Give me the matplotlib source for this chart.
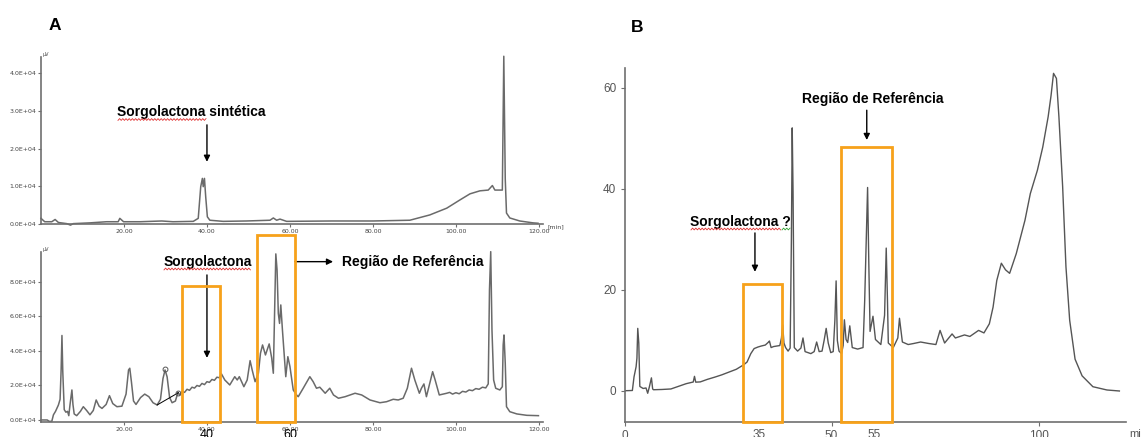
import numpy as np
import matplotlib
matplotlib.use("Agg")
import matplotlib.pyplot as plt
from matplotlib.patches import Rectangle
from matplotlib.lines import Line2D

# ---------------- data ----------------
# Panel A (top): synthetic sorgolactone, time [min], signal [x1E4 uV]
a1_time = [0, 0.9, 2.6, 3.4, 4.2, 6.2, 7.1, 7.8, 11.8, 15.8, 18.6, 19.0, 19.9, 23.9, 29.1, 31.8,
           36.7, 37.9, 38.5, 38.9, 39.1, 39.4, 39.7, 40.1, 40.7, 43.9, 49.5, 55.2, 56.0, 56.8,
           57.6, 59.2, 70.0, 80.0, 88.9, 93.7, 97.8, 101.0, 103.4, 105.8, 107.8, 108.8, 109.4,
           111.2, 111.55, 111.9, 112.2, 113.0, 115.4, 118.6, 119.8]
a1_signal = [0.15, 0.06, 0.06, 0.12, 0.04, 0.01, -0.03, 0.01, 0.03, 0.06, 0.06, 0.15, 0.06, 0.06,
             0.08, 0.06, 0.07, 0.15, 0.99, 1.21, 0.99, 1.21, 0.72, 0.19, 0.10, 0.07, 0.08, 0.10,
             0.16, 0.10, 0.13, 0.07, 0.08, 0.08, 0.10, 0.24, 0.42, 0.64, 0.80, 0.88, 0.90, 1.02,
             0.90, 0.90, 4.45, 1.20, 0.29, 0.16, 0.08, 0.03, 0.02]

# Panel A (bottom): sorghum extract
a2_time = [0, 1.5, 2.0, 2.6, 3.0, 3.5, 4.2, 4.6, 4.85, 5.05, 5.25, 5.6, 6.0, 6.4, 6.7, 7.0, 7.45,
           7.7, 8.0, 8.6, 9.5, 10.2, 11.0, 11.8, 12.6, 13.3, 14.0, 14.7, 15.7, 16.5, 17.3, 18.3,
           19.5, 20.5, 21.1, 21.4, 21.8, 22.3, 22.9, 24.0, 25.0, 26.0, 27.0, 28.0, 28.8, 29.4,
           29.9, 30.4, 31.0, 31.6, 32.4, 33.0, 33.4, 34.0, 34.6, 35.2, 35.8, 36.4, 37.0, 37.6,
           38.2, 38.8, 39.4, 40.0, 40.6, 41.2, 41.8, 42.4, 43.0, 43.5, 44.3, 45.5, 46.7, 47.3,
           47.8, 48.9, 49.7, 50.4, 50.9, 51.6, 52.4, 52.9, 53.4, 54.1, 55.0, 55.6, 56.0, 56.3,
           56.6, 56.9, 57.2, 57.5, 57.8, 58.2, 58.6, 59.0, 59.5, 60.0, 60.8, 61.6, 62.0, 63.2,
           64.8, 65.6, 66.4, 67.2, 68.5, 69.6, 70.5, 71.7, 73.3, 75.7, 77.3, 79.3, 81.7, 83.3,
           84.9, 86.1, 87.3, 88.3, 89.3, 90.1, 91.2, 91.7, 92.3, 92.9, 93.7, 94.4, 95.0, 96.0,
           97.8, 98.5, 99.2, 100.0, 100.8, 101.6, 102.4, 103.2, 104.0, 104.8, 105.6, 106.4,
           107.2, 107.8, 108.1, 108.4, 108.7, 109.1, 109.6, 110.6, 111.2, 111.4, 111.6, 111.9,
           112.2, 113.0, 114.7, 117.1, 119.9]
a2_signal = [0.0, 0.0, -0.08, -0.08, 0.3, 0.5, 0.87, 1.2, 2.9, 4.9, 2.8, 0.6, 0.45, 0.5, 0.25,
             0.9, 1.74, 0.9, 0.35, 0.25, 0.5, 0.77, 0.55, 0.3, 0.55, 1.16, 0.8, 0.67, 0.9, 1.41,
             0.95, 0.77, 0.8, 1.5, 2.9, 3.0, 2.2, 1.1, 0.9, 1.3, 1.5, 1.35, 1.0, 0.87, 1.2, 2.4,
             2.9, 2.5, 1.3, 1.0, 1.1, 1.6, 1.45, 1.65, 1.6, 1.78, 1.72, 1.9, 1.85, 2.0, 1.95,
             2.12, 2.05, 2.22, 2.18, 2.35, 2.3, 2.48, 2.45, 2.67, 2.32, 2.03, 2.51, 2.32, 2.51,
             1.93, 2.32, 3.44, 2.9, 2.22, 2.71, 3.87, 4.35, 3.77, 4.41, 3.6, 2.71, 6.2, 9.63,
             8.7, 6.19, 5.6, 6.67, 5.2, 3.87, 2.51, 3.67, 3.1, 1.74, 1.45, 1.35, 1.84, 2.51,
             2.22, 1.84, 1.9, 1.55, 1.84, 1.45, 1.26, 1.35, 1.55, 1.45, 1.16, 1.0, 1.06, 1.2,
             1.16, 1.26, 1.84, 3.0, 2.32, 1.55, 1.84, 2.09, 1.35, 2.13, 2.8, 2.32, 1.45, 1.55,
             1.6, 1.5, 1.58, 1.52, 1.66, 1.62, 1.74, 1.7, 1.82, 1.78, 1.9, 1.86, 2.09, 7.54,
             9.76, 5.22, 2.32, 1.84, 1.74, 1.93, 4.35, 4.93, 3.3, 0.77, 0.48, 0.35, 0.27, 0.25]
a2_marks_time = [29.9, 33.1]
a2_marks_signal = [2.94, 1.58]
a2_base_time = [28.0, 33.1]
a2_base_signal = [0.87, 1.58]

# Panel B: chromatogram, time [min], signal
b_time = [0, 1.9, 2.3, 2.8, 3.0, 3.2, 3.45, 3.7, 4.5, 5.2, 5.6, 6.0, 6.5, 6.8, 7.0, 9.0, 11.2,
          13.0, 14.9, 16.6, 16.9, 17.2, 18.3, 20.0, 21.9, 23.5, 25.3, 27.0, 27.9, 28.8, 29.6,
          30.0, 30.5, 31.3, 32.2, 33.0, 34.0, 34.8, 35.0, 35.4, 36.0, 36.7, 37.5, 37.9, 38.2,
          38.5, 38.9, 39.5, 40.0, 40.3, 40.5, 40.7, 41.0, 41.8, 42.6, 43.1, 43.6, 45.0, 45.8,
          46.4, 47.0, 47.7, 48.2, 48.7, 49.2, 49.8, 50.4, 50.8, 51.1, 51.4, 51.8, 52.4, 52.8,
          53.1, 53.5, 53.9, 54.4, 55.0, 56.3, 57.6, 58.0, 58.4, 58.7, 59.0, 59.3, 60.0, 60.6,
          61.9, 62.8, 63.2, 63.5, 63.7, 64.9, 66.0, 66.4, 67.1, 68.5, 69.8, 71.5, 73.5, 75.2,
          76.2, 77.3, 79.1, 79.9, 82.1, 83.4, 85.5, 86.8, 88.1, 89.0, 89.9, 91.0, 92.0, 93.0,
          94.6, 96.7, 98.0, 99.7, 101.0, 102.3, 103.0, 103.6, 104.3, 104.9, 105.8, 106.6,
          107.5, 108.8, 110.5, 113.1, 116.5, 119.5]
b_signal = [0.05, 0.1, 2.8, 4.8, 6.5, 12.4, 9.5, 0.9, 0.5, 0.6, -0.45, 0.8, 2.6, 0.4, 0.25, 0.3,
            0.4, 0.9, 1.45, 1.78, 2.9, 1.75, 1.8, 2.3, 2.77, 3.2, 3.76, 4.3, 4.75, 5.2, 5.74, 6.5,
            7.4, 8.4, 8.7, 8.9, 9.1, 9.7, 9.9, 8.6, 8.8, 8.9, 9.0, 10.5, 13.1, 9.5, 8.6, 7.9,
            8.5, 30.0, 52.1, 39.5, 8.6, 7.9, 8.5, 10.5, 7.8, 7.4, 7.8, 9.7, 7.8, 7.9, 10.0, 12.4,
            9.5, 7.6, 7.8, 14.0, 21.8, 10.0, 7.9, 7.4, 9.0, 14.1, 10.2, 9.6, 12.9, 8.6, 8.3, 8.6,
            17.9, 31.0, 40.3, 25.0, 11.8, 14.8, 10.2, 9.2, 15.0, 28.3, 18.0, 9.5, 8.6, 10.5,
            14.4, 9.7, 9.2, 9.4, 9.7, 9.4, 9.2, 12.0, 9.5, 11.3, 10.5, 11.1, 10.8, 12.0, 11.5,
            13.3, 16.6, 21.9, 25.3, 24.0, 23.3, 27.2, 33.8, 39.1, 43.7, 48.3, 54.3, 58.5, 62.9,
            61.9, 54.3, 40.5, 24.6, 14.0, 6.3, 3.0, 0.85, 0.2, 0.0]

a_xticks = [20, 40, 60, 80, 100, 120]
a1_yticks = [0, 1, 2, 3, 4]
a2_yticks = [0, 2, 4, 6, 8]
b_xticks = [0, 50, 100]
b_yticks = [0, 20, 40, 60]
b_extra_labels = [(32.6, "35"), (60.2, "55")]
a2_extra_labels = [(40, "40"), (60, "60")]

# ---------------- figure ----------------
W, H = 1141, 437
fig = plt.figure(figsize=(W / 100, H / 100), dpi=100)
fig.patch.set_facecolor("white")

def rect(x0, y0, x1, y1):
    # pixel box (from top-left) -> figure fraction rect
    return [x0 / W, 1 - y1 / H, (x1 - x0) / W, (y1 - y0) / H]

BOLD = dict(family="Liberation Sans", fontweight="bold", color="black")
ORANGE = "#F7A11A"
TRACE = "#6a6a6a"
SPINE = "#6f6f6f"

def style_a(ax, yticks):
    for s in ["top", "right"]:
        ax.spines[s].set_visible(False)
    for s in ["left", "bottom"]:
        ax.spines[s].set_color(SPINE)
        ax.spines[s].set_linewidth(1.2)
    ax.set_xticks(a_xticks)
    ax.set_xticklabels([f"{v:.2f}" for v in a_xticks])
    ax.set_yticks(yticks)
    ax.set_yticklabels([f"{v:.1f}E+04" for v in yticks])
    ax.tick_params(axis="both", labelsize=4.5, labelcolor="#444444", color=SPINE,
                   length=2.5, width=0.8, pad=1)
    ax.set_facecolor("none")

def wavy(x0, x1, y, color):
    xs = np.arange(x0, x1, 1.6)
    ys = y + 0.9 * np.where(np.arange(len(xs)) % 2 == 0, 1, -1)
    fig.add_artist(Line2D(xs / W, 1 - ys / H, color=color, lw=0.6,
                          transform=fig.transFigure))

arrowprops = dict(arrowstyle="-|>", color="black", lw=1.0, mutation_scale=9,
                  shrinkA=0, shrinkB=0)

# ---- Panel A top ----
ax1 = fig.add_axes(rect(41, 57, 543, 224))
ax1.plot(a1_time, a1_signal, color=TRACE, lw=1.1, clip_on=False)
ax1.set_xlim(0, 121)
ax1.set_ylim(0, 4.43)
style_a(ax1, a1_yticks)
ax1.text(0.5, 4.43, "µV", fontsize=3.5, color="#444444", ha="left", va="bottom")
ax1.text(122, 0, "[min]", fontsize=4.5, color="#444444", ha="left", va="top")
ax1.text(36.3, 2.98, "Sorgolactona sintética", fontsize=10, ha="center", va="center", **BOLD)
ax1.annotate("", xy=(40, 1.65), xytext=(40, 2.63), arrowprops=arrowprops)

# ---- Panel A bottom ----
ax2 = fig.add_axes(rect(41, 252, 543, 421.7))
ax2.plot(a2_time, a2_signal, color=TRACE, lw=1.1, clip_on=False)
ax2.plot(a2_base_time, a2_base_signal, color="black", lw=0.7)
ax2.plot(a2_marks_time, a2_marks_signal, ls="none", marker="o", ms=3.5, mfc="none",
         mec="#555555", mew=0.7)
ax2.set_xlim(0, 121)
ax2.set_ylim(-0.1, 9.74)
style_a(ax2, a2_yticks)
ax2.text(0.5, 9.74, "µV", fontsize=3.5, color="#444444", ha="left", va="bottom")
ax2.add_patch(Rectangle((33.9, -0.1), 43.1 - 33.9, 7.77 + 0.1, fill=False, ec=ORANGE,
                        lw=2.0, clip_on=False, zorder=5))
ax2.add_patch(Rectangle((52.0, -0.1), 61.2 - 52.0, 10.73 + 0.1, fill=False, ec=ORANGE,
                        lw=2.0, clip_on=False, zorder=5))
ax2.text(40.1, 9.16, "Sorgolactona", fontsize=10, ha="center", va="center", **BOLD)
ax2.annotate("", xy=(40, 3.6), xytext=(40, 8.41), arrowprops=arrowprops)
ax2.text(72.5, 9.18, "Região de Referência", fontsize=10, ha="left", va="center", **BOLD)
ax2.annotate("", xy=(70.4, 9.18), xytext=(61.2, 9.18), arrowprops=arrowprops)
for t, lab in a2_extra_labels:
    ax2.text(t, -0.52, lab, fontsize=9, family="Liberation Sans", color="black",
             ha="center", va="top", clip_on=False)

# ---- Panel B ----
ax3 = fig.add_axes(rect(624.5, 68, 1126, 422))
ax3.plot(b_time, b_signal, color="#555555", lw=1.0)
ax3.set_xlim(0, 121.1)
ax3.set_ylim(-6.14, 63.96)
for s in ["top", "right"]:
    ax3.spines[s].set_visible(False)
for s in ["left", "bottom"]:
    ax3.spines[s].set_color(SPINE)
    ax3.spines[s].set_linewidth(1.2)
ax3.set_xticks(b_xticks)
ax3.set_yticks(b_yticks)
ax3.tick_params(axis="both", labelsize=8.5, labelcolor="#555555", color=SPINE,
                length=3, width=0.8, pad=3)
for lab in ax3.get_xticklabels() + ax3.get_yticklabels():
    lab.set_family("Liberation Sans")
for t, lab in b_extra_labels:
    ax3.text(t, -7.5, lab, fontsize=8.5, family="Liberation Sans", color="#555555",
             ha="center", va="top", clip_on=False)
ax3.text(121.8, -7.5, "min", fontsize=8, family="Liberation Sans", color="#555555",
         ha="left", va="top", clip_on=False)
ax3.add_patch(Rectangle((28.5, -6.14), 38.0 - 28.5, 21.1 + 6.14, fill=False, ec=ORANGE,
                        lw=2.0, clip_on=False, zorder=5))
ax3.add_patch(Rectangle((52.4, -6.14), 64.6 - 52.4, 48.4 + 6.14, fill=False, ec=ORANGE,
                        lw=2.0, clip_on=False, zorder=5))
ax3.text(59.9, 57.8, "Região de Referência", fontsize=10, ha="center", va="center", **BOLD)
ax3.annotate("", xy=(58.5, 49.7), xytext=(58.5, 55.6), arrowprops=arrowprops)
ax3.text(28.1, 33.5, "Sorgolactona ?", fontsize=10, ha="center", va="center", **BOLD)
ax3.annotate("", xy=(31.5, 23.6), xytext=(31.5, 31.3), arrowprops=arrowprops)

# panel letters
fig.text(55 / W, 1 - 25 / H, "A", fontsize=12.5, ha="center", va="center", **BOLD)
fig.text(637 / W, 1 - 27 / H, "B", fontsize=12.5, ha="center", va="center", **BOLD)

# spell-check underlines
wavy(118, 207, 119.5, "#e03030")
wavy(164, 251, 269, "#e03030")
wavy(691, 782, 229, "#e03030")
wavy(782, 791, 229, "#30a030")

fig.savefig("out.png", dpi=100)
